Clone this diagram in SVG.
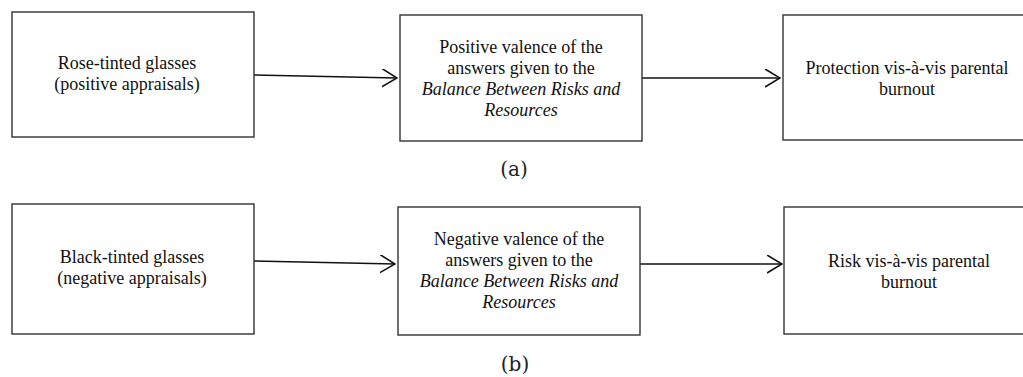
<svg xmlns="http://www.w3.org/2000/svg" width="1023" height="377" viewBox="0 0 1023 377">
<style>
.box{fill:#fff;stroke:#333;stroke-width:1.4}
.t{font-family:"Liberation Serif","Times New Roman",serif;font-size:18px;fill:#111;text-anchor:middle}
.i{font-style:italic}
.lab{font-family:"DejaVu Serif","Liberation Serif",serif;font-size:20px;fill:#222;text-anchor:middle}
.c{fill:none;stroke:#111;stroke-width:1.6}
</style>
<defs>
<marker id="ah" markerWidth="16" markerHeight="20" refX="15" refY="9" orient="auto" markerUnits="userSpaceOnUse">
<path d="M0,0 L15,9 L0,18" fill="none" stroke="#111" stroke-width="1.6"/>
</marker>
</defs>
<rect width="1023" height="377" fill="#fff"/>
<g id="connectors">
<path class="c" d="M254,75 L397,78" marker-end="url(#ah)"/>
<path class="c" d="M642,78 L780,78" marker-end="url(#ah)"/>
<path class="c" d="M254,261 L395,264" marker-end="url(#ah)"/>
<path class="c" d="M640,264 L782,264" marker-end="url(#ah)"/>
</g>
<g id="rose">
<rect class="box" x="12" y="12" width="242" height="125"/>
<text class="t" x="127" y="69">Rose-tinted glasses</text>
<text class="t" x="127" y="90">(positive appraisals)</text>
</g>
<g id="posval">
<rect class="box" x="400" y="15" width="242" height="126"/>
<text class="t" x="521" y="53">Positive valence of the</text>
<text class="t" x="521" y="74">answers given to the</text>
<text class="t i" x="521" y="95">Balance Between Risks and</text>
<text class="t i" x="521" y="116">Resources</text>
</g>
<g id="protection">
<rect class="box" x="783" y="15" width="245" height="125"/>
<text class="t" x="907" y="74">Protection vis-à-vis parental</text>
<text class="t" x="907" y="95">burnout</text>
</g>
<text class="lab" x="514" y="176">(a)</text>
<g id="black">
<rect class="box" x="12" y="204" width="242" height="130"/>
<text class="t" x="132" y="263">Black-tinted glasses</text>
<text class="t" x="132" y="284">(negative appraisals)</text>
</g>
<g id="negval">
<rect class="box" x="398" y="207" width="242" height="128"/>
<text class="t" x="519" y="245">Negative valence of the</text>
<text class="t" x="519" y="266">answers given to the</text>
<text class="t i" x="519" y="287">Balance Between Risks and</text>
<text class="t i" x="519" y="308">Resources</text>
</g>
<g id="risk">
<rect class="box" x="784" y="207" width="245" height="127"/>
<text class="t" x="909" y="267">Risk vis-à-vis parental</text>
<text class="t" x="909" y="288">burnout</text>
</g>
<text class="lab" x="515" y="371">(b)</text>
</svg>
